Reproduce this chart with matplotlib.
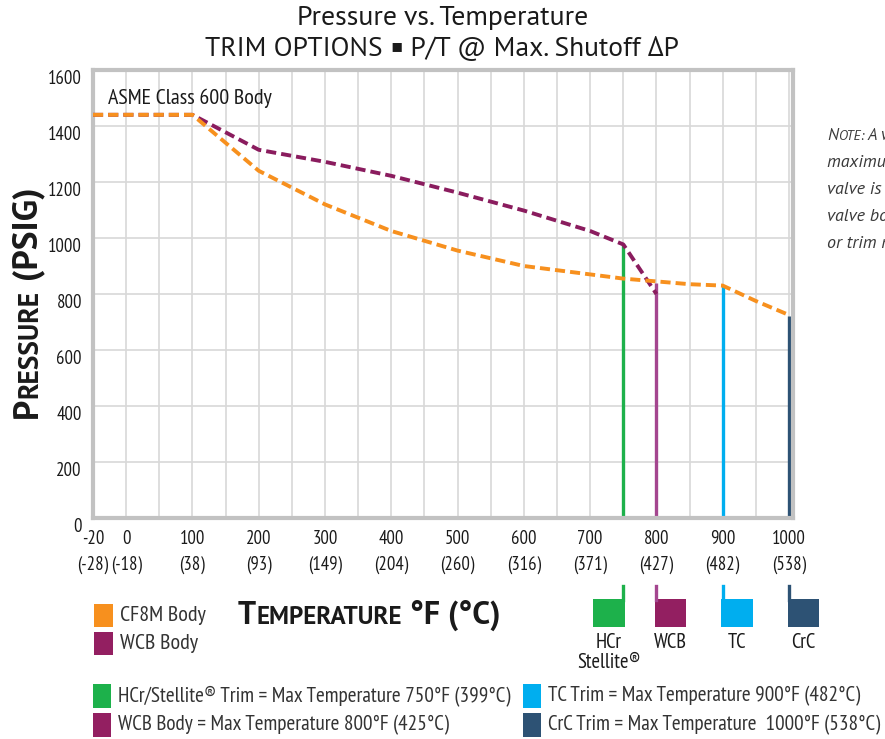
"""Pressure vs. Temperature chart, trim options (ASME Class 600 body)."""
import matplotlib
matplotlib.use("Agg")
import matplotlib.pyplot as plt
from matplotlib import font_manager
from matplotlib.patches import Rectangle
from matplotlib.lines import Line2D
from matplotlib.transforms import ScaledTranslation

# ---- data -------------------------------------------------------------
TEMP_TICKS_F = [-20, 0, 100, 200, 300, 400, 500, 600, 700, 800, 900, 1000]
TEMP_TICKS_C = [-28, -18, 38, 93, 149, 204, 260, 316, 371, 427, 482, 538]
PRESSURE_TICKS = [0, 200, 400, 600, 800, 1000, 1200, 1400, 1600]

CF8M_TEMP = [-20, 100, 200, 300, 400, 500, 600, 650, 700, 750, 800, 850, 900, 950, 1000]
CF8M_PSI = [1440, 1440, 1240, 1120, 1025, 955, 900, 885, 870, 855, 845, 835, 830, 775, 725]

WCB_TEMP = [-20, 100, 200, 300, 400, 500, 600, 700, 750, 800]
WCB_PSI = [1440, 1440, 1315, 1272, 1222, 1162, 1098, 1025, 977, 800]

TRIM_LABELS = ["HCr\nStellite®", "WCB", "TC", "CrC"]
TRIM_MAX_F = [750, 800, 900, 1000]
TRIM_TOP_PSI = [977, 840, 833, 722]

LEGEND_LEFT = ["HCr/Stellite® Trim = Max Temperature 750°F (399°C)",
               "WCB Body = Max Temperature 800°F (425°C)"]
LEGEND_RIGHT = ["TC Trim = Max Temperature 900°F (482°C)",
                "CrC Trim = Max Temperature  1000°F (538°C)"]
NOTE_LINES = ["maximum pressure rating", "valve is limited by the",
              "valve body material", "or trim material."]

# ---- style ------------------------------------------------------------
ORANGE = "#F7901E"
PURPLE = "#8A1C5E"
WCB_LINE = "#A4468F"
WCB_BOX = "#931F61"
GREEN = "#1DB14B"
CYAN = "#00AEEF"
NAVY = "#2D5274"
TRIM_COLORS = [GREEN, WCB_LINE, CYAN, NAVY]
BOX_COLORS = [GREEN, WCB_BOX, CYAN, NAVY]
GRID = "#D8D8D8"
SPINE = "#C2C2C2"
INK = "#1A1A1A"

names = {f.name for f in font_manager.fontManager.ttflist}


def pick(cands):
    for c in cands:
        if c in names:
            return [c, "DejaVu Sans"]
    return ["DejaVu Sans"]


NARROW = pick(["PT Sans Narrow", "Roboto Condensed", "Open Sans Condensed",
               "Fira Sans Condensed", "Archivo Narrow", "Liberation Sans Narrow"])
WIDE = pick(["PT Sans", "Open Sans", "Noto Sans"])
plt.rcParams["font.family"] = NARROW

W, H = 885, 739
X_LEFT = -50     # the -20°F column sits on the left edge of the grid
X_RIGHT = 1006   # 1000°F line sits just inside the right border


def xpos(temps):
    return [X_LEFT if t == -20 else t for t in temps]


def fx(px):
    return px / W


def fy(py):
    return 1 - py / H


fig = plt.figure(figsize=(W / 100, H / 100), dpi=100)
R = fig.canvas.get_renderer()


def fit(t, target):
    """Scale a text's font size so its width (px) matches the reference."""
    w = t.get_window_extent(R).width
    t.set_fontsize(t.get_fontsize() * target / w)
    return t


def pieces(x, y, parts, target, rotation=0, anchor="center", **kw):
    """Small-caps style run of pieces; y is the baseline (px from top)."""
    arts = [fig.text(0, 0, s, fontsize=sz, rotation=rotation, rotation_mode="anchor",
                     ha="left", va="baseline", **kw) for s, sz in parts]

    def lengths():
        out = []
        for a in arts:
            bb = a.get_window_extent(R)
            out.append(bb.width if rotation == 0 else bb.height)
        return out

    k = target / sum(lengths())
    for a in arts:
        a.set_fontsize(a.get_fontsize() * k)
    sizes = lengths()
    pos = -sum(sizes) / 2 if anchor == "center" else 0
    for a, s in zip(arts, sizes):
        if rotation == 0:
            a.set_position((fx(x + pos), fy(y)))
        else:
            a.set_position((fx(x), fy(y - pos)))
        pos += s
    return arts


ax = fig.add_axes([fx(93), fy(518), 700 / W, 448 / H])

# trim limit lines
ax.vlines(TRIM_MAX_F, 0, TRIM_TOP_PSI, colors=TRIM_COLORS, linewidth=2.4, zorder=2)

# body curves
ax.plot(xpos(WCB_TEMP), WCB_PSI, color=PURPLE, linewidth=2.8,
        dashes=(2.6, 1.3), zorder=3)
ax.plot(xpos(CF8M_TEMP), CF8M_PSI, color=ORANGE, linewidth=2.8,
        dashes=(2.6, 1.3), zorder=4)

ax.set_xlim(X_LEFT, X_RIGHT)
ax.set_ylim(0, 1600)
ax.set_xticks(xpos(TEMP_TICKS_F))
ax.set_xticks(range(X_LEFT, 1001, 50), minor=True)
ax.set_yticks(PRESSURE_TICKS)
ax.tick_params(axis="both", which="both", length=0)
ax.grid(True, which="both", color=GRID, linewidth=1.2)
ax.set_axisbelow(True)
for sp in ax.spines.values():
    sp.set_color(SPINE)
    sp.set_linewidth(3)

# tick font size: "1000" is about 34 px wide in the reference
probe = fig.text(0, 0, "1000", fontsize=14)
fit(probe, 34)
TICK_FS = probe.get_fontsize()
probe.remove()

ax.set_xticklabels([f"{f}\n({c})" for f, c in zip(TEMP_TICKS_F, TEMP_TICKS_C)],
                   fontsize=TICK_FS, linespacing=1.5, color=INK)
ax.set_yticklabels([str(p) for p in PRESSURE_TICKS], fontsize=TICK_FS, color=INK)
ax.tick_params(axis="x", pad=9)
ax.tick_params(axis="y", pad=8)
for lab in ax.get_yticklabels():
    lab.set_transform(lab.get_transform() + ScaledTranslation(0, -5 / 72, fig.dpi_scale_trans))

fit(ax.text(0.021, 0.9375, "ASME Class 600 Body", transform=ax.transAxes,
            fontsize=14, color=INK, va="center", ha="left"), 165)

# titles
fit(fig.text(0.5, fy(18), "Pressure vs. Temperature", ha="center", va="center",
             fontsize=18, color=INK, family=WIDE), 291)
sub = pieces(442, 56, [("TRIM OPTIONS ", 18), ("▪", 12), (" P/T @ Max. Shutoff ∆P", 18)], 473,
             family=WIDE, color=INK)
bx, by = sub[1].get_position()
sub[1].set_position((bx, by + 5 / H))  # lift the bullet to mid cap height

# small-caps axis labels
pieces(369, 624, [("T", 21), ("EMPERATURE", 16.5), (" °F (°C)", 21)], 262,
       family=WIDE, fontweight="bold", color=INK)
pieces(37, 303, [("P", 23), ("RESSURE", 18), (" (PSIG)", 23)], 231, rotation=90,
       family=WIDE, fontweight="bold", color=INK)

# body legend (left)
body_fs = None
for i, (lab, col) in enumerate(zip(["CF8M Body", "WCB Body"], [ORANGE, WCB_BOX])):
    y0 = 604 + i * 28
    fig.add_artist(Rectangle((fx(94), fy(y0 + 23)), 19 / W, 23 / H, color=col, lw=0))
    t = fig.text(fx(120), fy(y0 + 11.5), lab, fontsize=13, color="#333333", va="center")
    if body_fs is None:
        body_fs = fit(t, 85).get_fontsize()
    t.set_fontsize(body_fs)

# trim keys under the axis, hung from the limit lines
key_fs = None
for i, (t, lab, col, bcol) in enumerate(zip(TRIM_MAX_F, TRIM_LABELS, TRIM_COLORS, BOX_COLORS)):
    xp = ax.transData.transform((t, 0))[0]
    left = xp - 30 if i == 0 else xp - 1.5
    fig.add_artist(Rectangle((fx(left), fy(627)), 31.5 / W, 28 / H, color=bcol, lw=0))
    fig.add_artist(Line2D([fx(xp), fx(xp)], [fy(586), fy(600)], color=col, linewidth=2.4))
    txt = fig.text(fx(left + 15.7), fy(633), lab, ha="center", va="top", fontsize=15,
                   color=INK, linespacing=1.1)
    if i == 1:
        key_fs = fit(txt, 33).get_fontsize()
for txt in fig.texts[-4:]:
    txt.set_fontsize(key_fs)

# trim limit legend (bottom)
leg_fs = None
for col_x, labs, cols in [(93, LEGEND_LEFT, [GREEN, WCB_BOX]), (523, LEGEND_RIGHT, [CYAN, NAVY])]:
    for j, (lab, c) in enumerate(zip(labs, cols)):
        yc = 696 + j * 28.5
        fig.add_artist(Rectangle((fx(col_x), fy(yc + 12)), 18 / W, 24 / H, color=c, lw=0))
        t = fig.text(fx(col_x + 25), fy(yc), lab, fontsize=13, color="#333333", va="center")
        if leg_fs is None:
            leg_fs = fit(t, 389).get_fontsize()
        t.set_fontsize(leg_fs)

# note on the right (runs off the edge)
note_kw = dict(style="italic", color="#3A3A3A", family=WIDE)
pieces(827, 140, [("N", 13), ("OTE:", 10.5), (" A valve's", 13)], 100, anchor="left", **note_kw)
for k, line in enumerate(NOTE_LINES):
    t = fig.text(fx(827), fy(167 + 27 * k), line, fontsize=13, va="baseline", **note_kw)

fig.savefig("out.png", dpi=100, facecolor="white")
